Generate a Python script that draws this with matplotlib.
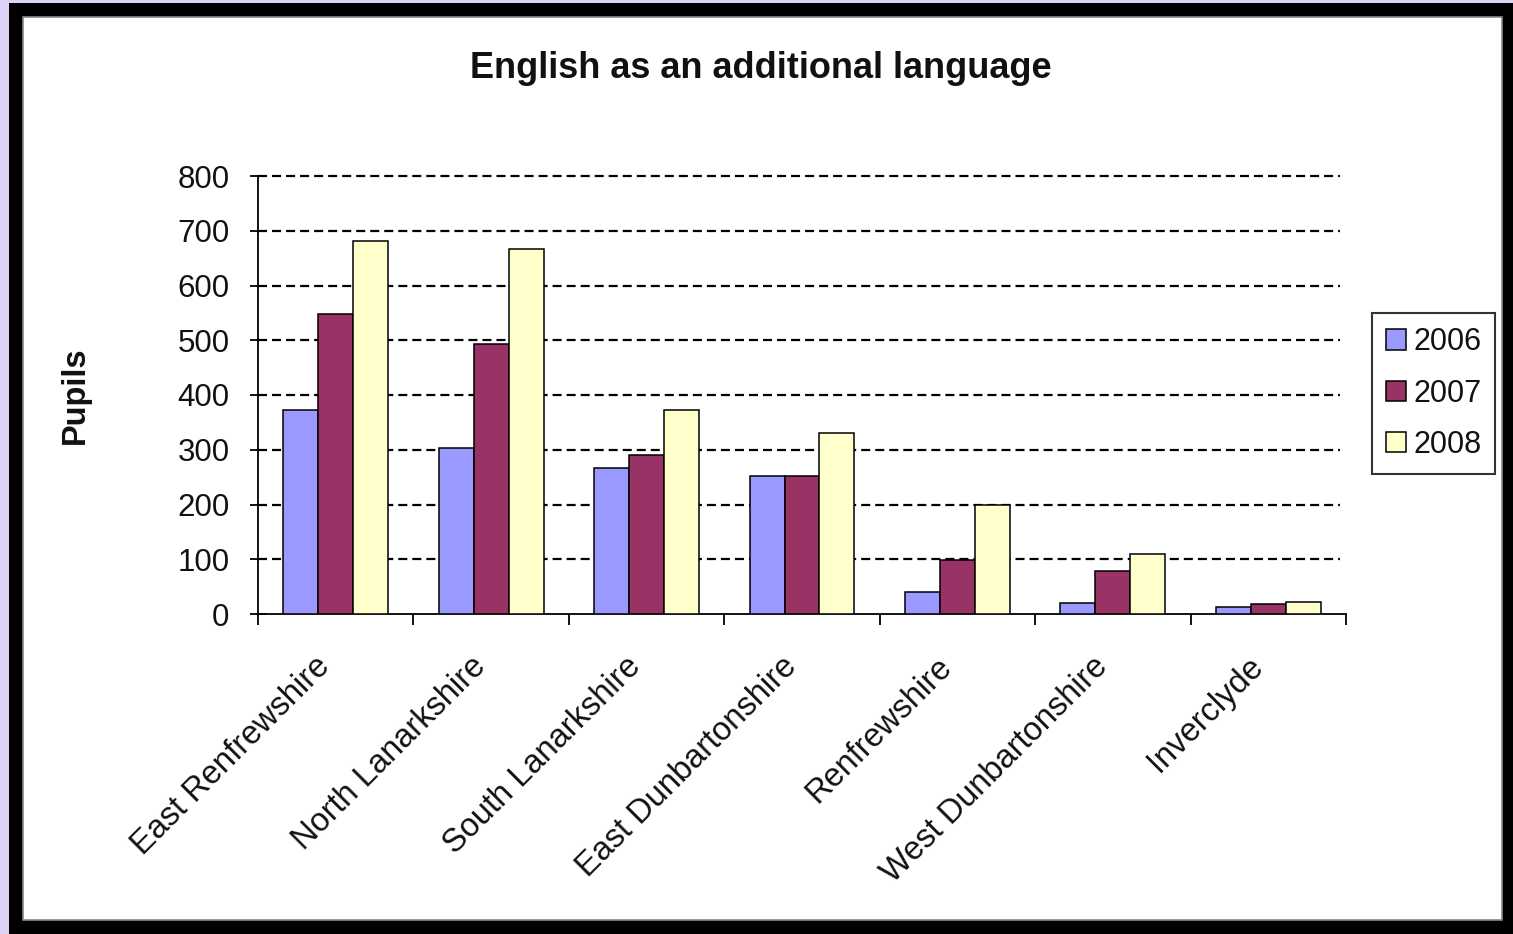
import matplotlib
matplotlib.use('Agg')
import matplotlib.pyplot as plt
import matplotlib.patches as patches
from matplotlib import transforms
import numpy as np

plt.rcParams['font.family'] = ['Liberation Sans', 'DejaVu Sans']
plt.rcParams['lines.scale_dashes'] = False

# Data
councils = ['East Renfrewshire', 'North Lanarkshire', 'South Lanarkshire',
            'East Dunbartonshire', 'Renfrewshire', 'West Dunbartonshire',
            'Inverclyde']
years = ['2006', '2007', '2008']
pupils_2006 = [373, 303, 267, 252, 41, 21, 13]
pupils_2007 = [548, 493, 290, 252, 98, 78, 18]
pupils_2008 = [681, 667, 373, 331, 200, 110, 22]
y_ticks = [0, 100, 200, 300, 400, 500, 600, 700, 800]

BAR_COLORS = ['#9999FF', '#993366', '#FFFFCC']

W, H = 1513, 934
fig = plt.figure(figsize=(W / 100, H / 100), dpi=100)
fig.patch.set_facecolor('#000000')

# lavender strip on the left/top edge, then the white chart panel
fig.add_artist(patches.Rectangle((0, 0), 9 / W, 1, transform=fig.transFigure,
                                 facecolor='#ddd2f7', edgecolor='none', zorder=0))
fig.add_artist(patches.Rectangle((0, 1 - 3 / H), 1, 3 / H, transform=fig.transFigure,
                                 facecolor='#ddd2f7', edgecolor='none', zorder=0))
fig.add_artist(patches.Rectangle((23 / W, 1 - 920 / H), (1502 - 23) / W, (920 - 17) / H,
                                 transform=fig.transFigure, facecolor='white',
                                 edgecolor='#888888', linewidth=1.2, zorder=0))

ax = fig.add_axes([258 / W, 1 - 614 / H, (1346 - 258) / W, (614 - 176) / H])
ax.set_facecolor('none')

x = np.arange(len(councils))
bw = 0.225
series = [pupils_2006, pupils_2007, pupils_2008]
for i, (vals, col, yr) in enumerate(zip(series, BAR_COLORS, years)):
    ax.bar(x + (i - 1) * bw, vals, bw, color=col, edgecolor='black',
           linewidth=1.1, label=yr, zorder=3)

ax.set_xlim(-0.5, len(councils) - 0.5)
ax.set_ylim(0, 800)
ax.set_yticks(y_ticks)
ax.set_yticklabels([str(v) for v in y_ticks], fontsize=22.5, color='#111111')

# gridlines (stop a little short of the right end, as in the original)
for v in y_ticks[1:]:
    ax.plot([-0.5, len(councils) - 0.54], [v, v], color='black', linewidth=1.6,
            dashes=(6.5, 3.6), zorder=1, clip_on=False)

for s in ['top', 'right']:
    ax.spines[s].set_visible(False)
for s in ['left', 'bottom']:
    ax.spines[s].set_linewidth(1.3)
    ax.spines[s].set_color('black')

# ticks at category boundaries, labels at centres
ax.set_xticks(np.arange(len(councils) + 1) - 0.5)
ax.set_xticklabels([])
ax.tick_params(axis='x', which='major', direction='out', length=8, width=1.3)
ax.set_xticks(x, minor=True)
ax.set_xticklabels(councils, minor=True, rotation=45, ha='right', va='center',
                   rotation_mode='anchor', fontsize=23.5, color='#111111')
ax.tick_params(axis='x', which='minor', length=0, pad=33)
shift = transforms.ScaledTranslation(-0.1, -0.02, fig.dpi_scale_trans)
for lbl in ax.get_xticklabels(minor=True):
    lbl.set_transform(lbl.get_transform() + shift)
ax.tick_params(axis='y', direction='inout', length=11, width=1.3, pad=15)

fig.text(761 / W, 1 - 69 / H, 'English as an additional language', ha='center',
         va='center', fontsize=26, fontweight='bold', color='#111111')
fig.text(75 / W, 1 - 395 / H, 'Pupils', ha='center', va='center', rotation=90,
         fontsize=23.5, fontweight='bold', color='#111111')

leg = fig.legend(loc='center', bbox_to_anchor=(1433.5 / W, 1 - 393.5 / H),
                 fontsize=22, frameon=True, fancybox=False, handlelength=0.65,
                 handleheight=0.65, handletextpad=0.25, labelspacing=0.7,
                 borderpad=0.45, borderaxespad=0)
leg.get_frame().set_edgecolor('black')
leg.get_frame().set_linewidth(1.5)
for t in leg.get_texts():
    t.set_color('#111111')

fig.savefig('out.png', dpi=100, facecolor=fig.get_facecolor())
